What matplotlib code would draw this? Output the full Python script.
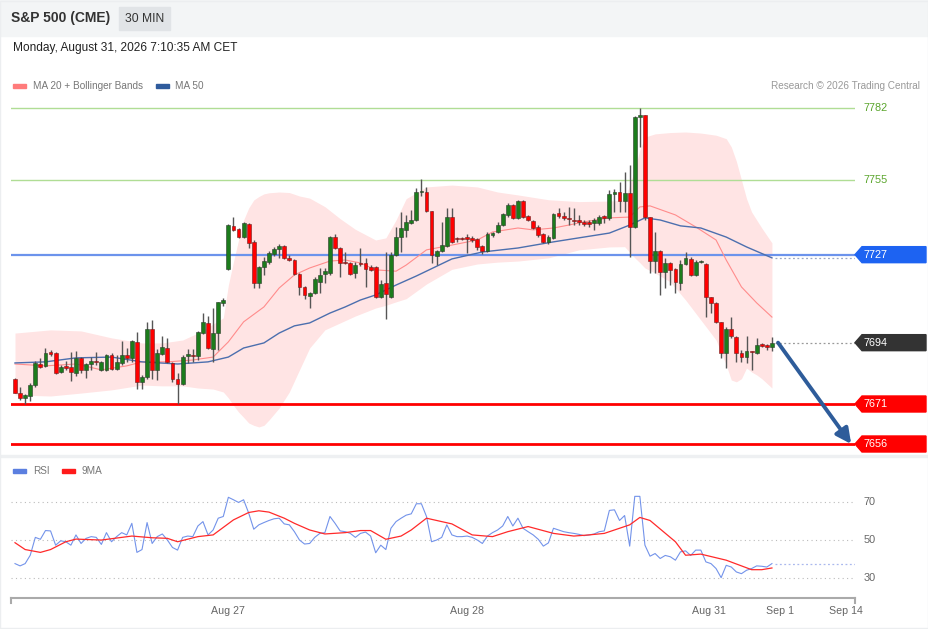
import matplotlib
matplotlib.use("Agg")
import matplotlib.pyplot as plt
import matplotlib.patches as patches
from matplotlib.transforms import blended_transform_factory
import numpy as np

plt.rcParams["font.family"] = ["Liberation Sans", "DejaVu Sans"]

# 30 minute candles, S&P 500 futures (bar number, open, high, low, close)
opens = [7680.4, 7675.1, 7673.3, 7674.0, 7678.1, 7686.0, 7685.3, 7690.5, 7690.1, 7683.0,
         7685.3, 7684.9, 7682.6, 7688.3, 7683.8, 7686.0, 7687.1, 7683.8, 7683.8, 7689.4,
         7684.1, 7686.4, 7689.4, 7688.3, 7694.3, 7679.3, 7681.1, 7699.1, 7683.8, 7689.8,
         7692.0, 7686.4, 7680.4, 7678.5, 7689.0, 7689.4, 7689.0, 7697.6, 7701.4, 7691.6,
         7697.6, 7708.9, 7721.6, 7737.8, 7736.6, 7733.6, 7738.5, 7731.8, 7716.4, 7722.4,
         7724.3, 7727.3, 7729.1, 7730.3, 7725.8, 7725.0, 7719.8, 7714.9, 7711.5, 7712.6,
         7716.8, 7719.8, 7720.1, 7733.6, 7729.5, 7724.3, 7723.9, 7720.1, 7723.9, 7723.9,
         7722.4, 7722.4, 7711.1, 7716.4, 7711.1, 7726.9, 7733.6, 7736.3, 7738.9, 7740.0,
         7750.5, 7750.5, 7743.4, 7726.5, 7728.4, 7730.3, 7741.1, 7733.3, 7733.3, 7733.6,
         7733.3, 7732.9, 7730.3, 7728.4, 7734.4, 7735.5, 7738.1, 7741.9, 7745.6, 7740.8,
         7747.1, 7741.5, 7739.6, 7737.4, 7734.8, 7731.8, 7733.3, 7742.6, 7741.5, 7740.8,
         7740.0, 7740.0, 7739.3, 7739.3, 7738.9, 7738.9, 7741.5, 7740.8, 7749.8, 7750.5,
         7747.1, 7750.1, 7737.4, 7778.6, 7779.4, 7741.1, 7724.6, 7728.4, 7720.5, 7723.9,
         7721.6, 7716.4, 7723.5, 7725.4, 7719.4, 7724.3, 7723.5, 7711.1, 7708.9, 7701.8,
         7690.1, 7699.1, 7696.1, 7690.1, 7688.6, 7690.9, 7690.1, 7693.5, 7693.1, 7692.4]
highs = [7680.8, 7677.4, 7674.8, 7678.9, 7687.1, 7688.3, 7692.0, 7691.3, 7690.5, 7685.6,
         7687.1, 7690.5, 7690.9, 7688.6, 7686.4, 7688.6, 7690.5, 7687.1, 7689.8, 7690.1,
         7689.4, 7694.6, 7692.0, 7695.0, 7698.0, 7681.9, 7701.8, 7702.5, 7691.6, 7696.5,
         7695.8, 7686.8, 7682.6, 7689.4, 7691.6, 7691.6, 7698.4, 7705.1, 7704.0, 7707.0,
         7709.3, 7710.8, 7738.5, 7741.1, 7737.0, 7739.3, 7738.9, 7732.5, 7722.8, 7726.1,
         7728.4, 7729.9, 7731.0, 7730.6, 7726.9, 7725.4, 7720.1, 7715.3, 7713.0, 7718.6,
         7722.0, 7722.0, 7734.0, 7734.8, 7729.9, 7728.0, 7724.3, 7724.3, 7729.5, 7725.8,
         7723.1, 7722.8, 7717.5, 7728.0, 7728.0, 7737.4, 7743.0, 7741.9, 7743.8, 7752.0,
         7755.4, 7752.4, 7743.4, 7728.8, 7739.3, 7744.5, 7744.5, 7733.6, 7733.6, 7734.8,
         7734.0, 7733.3, 7730.6, 7735.5, 7735.5, 7739.3, 7742.6, 7746.4, 7746.0, 7747.5,
         7747.5, 7741.9, 7740.0, 7738.1, 7735.1, 7734.4, 7742.6, 7744.5, 7743.0, 7744.9,
         7744.5, 7741.9, 7740.0, 7740.0, 7740.8, 7741.9, 7741.9, 7751.3, 7751.6, 7754.3,
         7758.0, 7760.6, 7779.0, 7782.0, 7779.4, 7741.1, 7735.5, 7728.8, 7725.8, 7724.3,
         7722.0, 7725.0, 7728.0, 7726.1, 7725.0, 7725.0, 7723.9, 7711.1, 7709.3, 7701.8,
         7699.9, 7703.6, 7696.5, 7691.3, 7696.5, 7690.9, 7695.8, 7693.9, 7693.5, 7696.1]
lows = [7675.1, 7672.5, 7671.0, 7672.1, 7677.4, 7684.5, 7684.9, 7689.0, 7682.3, 7682.6,
        7683.8, 7679.6, 7681.5, 7682.6, 7680.8, 7683.8, 7685.6, 7683.4, 7683.4, 7683.8,
        7683.8, 7685.6, 7686.8, 7686.8, 7676.6, 7676.6, 7680.4, 7680.4, 7680.0, 7689.4,
        7686.4, 7679.3, 7671.0, 7678.1, 7686.4, 7686.8, 7687.5, 7697.3, 7691.6, 7686.8,
        7691.3, 7707.8, 7721.3, 7735.9, 7733.3, 7733.3, 7729.5, 7714.5, 7714.5, 7719.4,
        7723.5, 7726.5, 7725.8, 7725.4, 7724.6, 7719.4, 7711.9, 7710.4, 7707.0, 7712.3,
        7712.6, 7716.4, 7719.4, 7729.1, 7718.6, 7723.5, 7719.4, 7718.3, 7722.8, 7714.9,
        7720.9, 7710.8, 7710.8, 7702.9, 7710.8, 7726.5, 7728.0, 7733.6, 7738.5, 7739.6,
        7749.0, 7743.0, 7723.9, 7723.1, 7728.0, 7729.9, 7731.4, 7731.8, 7732.5, 7727.6,
        7731.8, 7728.8, 7727.3, 7728.0, 7733.6, 7735.1, 7737.8, 7741.1, 7740.4, 7740.4,
        7740.8, 7739.6, 7736.6, 7733.6, 7731.4, 7731.0, 7732.9, 7740.8, 7740.0, 7738.1,
        7738.1, 7738.1, 7737.8, 7737.4, 7736.3, 7738.1, 7739.0, 7740.0, 7743.0, 7743.0,
        7743.0, 7726.1, 7737.0, 7767.4, 7740.0, 7720.1, 7720.1, 7711.9, 7714.5, 7715.6,
        7712.6, 7713.8, 7723.1, 7719.0, 7719.0, 7723.9, 7703.6, 7705.1, 7701.4, 7688.3,
        7684.5, 7695.8, 7686.8, 7686.8, 7686.4, 7683.8, 7689.8, 7692.4, 7691.3, 7690.9]
closes = [7675.1, 7673.3, 7674.4, 7678.1, 7686.4, 7684.9, 7690.1, 7689.8, 7682.6, 7684.9,
          7684.5, 7683.0, 7688.3, 7683.8, 7686.0, 7687.1, 7686.8, 7686.8, 7689.4, 7684.1,
          7686.8, 7689.4, 7688.3, 7694.6, 7679.3, 7681.1, 7699.1, 7683.8, 7690.1, 7692.4,
          7686.8, 7680.4, 7678.5, 7688.6, 7689.8, 7689.0, 7698.0, 7701.8, 7692.0, 7697.6,
          7709.3, 7710.0, 7738.1, 7736.3, 7733.6, 7738.9, 7731.4, 7716.4, 7722.4, 7724.6,
          7727.6, 7729.1, 7730.3, 7725.8, 7725.0, 7719.8, 7714.9, 7711.9, 7712.6, 7717.9,
          7719.4, 7720.9, 7733.6, 7729.5, 7723.9, 7723.9, 7719.8, 7723.1, 7723.5, 7721.6,
          7721.3, 7711.1, 7716.0, 7712.3, 7726.9, 7733.6, 7737.0, 7739.3, 7740.0, 7750.5,
          7750.9, 7743.4, 7726.9, 7728.4, 7730.6, 7741.1, 7731.8, 7732.9, 7732.9, 7732.9,
          7732.5, 7729.9, 7728.4, 7734.8, 7735.1, 7738.1, 7742.3, 7745.6, 7740.8, 7747.1,
          7741.1, 7740.0, 7737.0, 7734.4, 7731.8, 7733.6, 7742.3, 7741.5, 7740.8, 7740.4,
          7739.6, 7739.3, 7738.5, 7738.5, 7740.0, 7741.1, 7740.8, 7749.8, 7750.5, 7747.1,
          7750.1, 7737.4, 7778.6, 7779.4, 7741.1, 7724.6, 7728.4, 7720.5, 7723.9, 7721.3,
          7716.8, 7723.5, 7725.8, 7719.4, 7724.3, 7724.6, 7711.1, 7708.9, 7701.8, 7690.1,
          7699.1, 7696.5, 7690.1, 7688.6, 7690.9, 7690.5, 7693.1, 7692.8, 7692.4, 7694.0]

# moving averages read at sample bars
ma20_bar = [1, 7, 13, 18, 23, 26, 31, 36, 40, 43, 46, 50, 53, 56, 59, 63, 66, 69, 72, 76,
            78, 82, 87, 92, 95, 100, 103, 107, 110, 113, 118, 122, 124, 126, 131, 135, 139,
            141, 144, 147, 150]
ma20_val = [7686.0, 7685.3, 7686.0, 7683.8, 7685.3, 7686.8, 7686.8, 7687.5, 7688.6, 7694.3,
            7701.8, 7707.4, 7714.5, 7719.4, 7722.0, 7724.6, 7725.0, 7723.9, 7721.3, 7720.8,
            7723.1, 7728.8, 7730.6, 7732.5, 7735.5, 7737.0, 7736.3, 7737.0, 7738.1, 7739.3,
            7740.8, 7741.1, 7744.9, 7745.3, 7741.9, 7737.4, 7732.5, 7725.0, 7714.9, 7708.9,
            7703.6]
ma50_bar = [1, 7, 13, 20, 26, 33, 39, 43, 46, 50, 53, 56, 59, 63, 66, 69, 72, 76, 80, 87,
            93, 100, 107, 113, 118, 122, 125, 128, 132, 136, 141, 145, 150]
ma50_val = [7686.4, 7686.8, 7688.3, 7688.6, 7686.8, 7686.0, 7686.8, 7688.6, 7692.0, 7693.9,
            7697.6, 7700.3, 7701.4, 7705.1, 7707.4, 7710.0, 7711.9, 7715.6, 7719.0, 7725.4,
            7728.0, 7729.5, 7731.8, 7733.6, 7735.1, 7738.1, 7740.8, 7740.0, 7737.8, 7737.0,
            7733.6, 7729.9, 7725.8]

# Bollinger bands
bb_bar = [1, 8, 14, 20, 26, 30, 34, 37, 40, 42, 43, 44, 45, 46, 47, 48, 49, 50, 51, 53,
          55, 57, 59, 62, 65, 68, 72, 74, 76, 78, 82, 87, 92, 96, 100, 106, 112, 118, 121,
          123, 124, 125, 127, 130, 133, 136, 139, 141, 142, 143, 144, 145, 146, 147, 148, 150]
bb_upper = [7697.6, 7698.8, 7698.4, 7695.8, 7693.9, 7693.9, 7695.0, 7697.6, 7701.0, 7703.3,
            7715.6, 7724.3, 7732.5, 7740.0, 7744.5, 7747.5, 7748.8, 7749.8, 7750.2, 7750.5,
            7750.3, 7749.0, 7748.2, 7745.0, 7740.5, 7736.5, 7732.5, 7733.3, 7740.0, 7748.0,
            7752.4, 7753.1, 7752.4, 7750.5, 7749.4, 7747.6, 7746.9, 7747.1, 7747.5, 7758.8,
            7766.3, 7771.1, 7772.3, 7772.8, 7773.0, 7772.6, 7771.8, 7770.5, 7767.4, 7762.0,
            7755.0, 7748.0, 7743.0, 7740.0, 7737.0, 7731.4]
bb_lower = [7674.4, 7674.0, 7675.1, 7676.3, 7678.1, 7677.8, 7677.8, 7677.0, 7676.6, 7675.5,
            7673.3, 7670.5, 7668.0, 7666.0, 7663.9, 7663.0, 7662.4, 7663.0, 7665.0, 7669.5,
            7675.5, 7683.8, 7692.0, 7698.8, 7701.4, 7704.0, 7707.0, 7708.0, 7709.3, 7710.5,
            7716.0, 7721.5, 7723.5, 7724.2, 7724.6, 7725.8, 7728.8, 7729.9, 7730.0, 7725.8,
            7724.0, 7722.0, 7720.1, 7716.8, 7710.0, 7702.5, 7695.0, 7685.6, 7680.0, 7679.3,
            7680.5, 7684.5, 7683.0, 7681.9, 7680.5, 7677.0]

# RSI per bar and its 9 period average at sample bars
rsi = [37.6, 36.4, 37.6, 42.0, 51.4, 50.4, 55.0, 54.8, 47.3, 49.6,
       49.1, 47.3, 52.7, 48.2, 50.9, 51.8, 51.4, 47.7, 53.9, 49.1,
       51.8, 53.9, 52.7, 58.8, 43.5, 45.0, 59.2, 48.2, 51.8, 53.2,
       50.0, 46.1, 44.7, 51.4, 52.1, 51.8, 57.4, 59.7, 52.7, 55.3,
       61.5, 62.4, 72.5, 71.2, 69.8, 71.2, 64.2, 55.7, 58.0, 59.2,
       60.3, 61.2, 61.5, 58.5, 58.0, 54.4, 50.0, 47.9, 48.2, 51.4,
       53.5, 53.9, 62.4, 58.8, 54.8, 54.4, 53.5, 51.4, 53.5, 54.2,
       52.1, 43.3, 47.3, 45.0, 56.2, 59.7, 61.5, 63.1, 63.8, 69.1,
       69.1, 62.4, 49.1, 50.0, 51.4, 58.0, 52.7, 51.8, 51.8, 52.1,
       51.4, 50.0, 48.2, 52.1, 53.9, 55.3, 57.4, 62.4, 57.4, 61.5,
       56.2, 54.4, 52.7, 50.4, 46.8, 48.5, 56.2, 55.3, 54.4, 53.9,
       53.5, 53.0, 52.3, 52.7, 53.2, 54.4, 54.8, 65.6, 65.9, 60.3,
       62.9, 46.8, 73.0, 73.0, 47.3, 41.5, 42.9, 40.3, 41.9, 41.2,
       39.4, 43.8, 44.3, 41.9, 44.7, 44.7, 38.5, 37.6, 35.0, 30.2,
       36.7, 35.8, 33.2, 32.3, 34.1, 35.0, 36.4, 36.2, 35.8, 37.6]
ma9_bar = [1, 3, 6, 8, 11, 13, 18, 24, 28, 31, 33, 37, 40, 44, 47, 49, 51, 54, 56, 59,
           62, 66, 69, 71, 74, 77, 79, 82, 85, 87, 91, 95, 98, 102, 107, 111, 114, 117,
           122, 124, 126, 131, 133, 136, 141, 146, 148, 150]
ma9_val = [48.6, 45.0, 43.5, 45.0, 49.1, 50.5, 50.0, 52.1, 51.2, 50.9, 49.1, 51.8, 52.7,
           60.6, 64.5, 65.4, 64.7, 61.5, 58.8, 55.3, 53.2, 53.9, 55.0, 55.0, 50.4, 52.1,
           55.3, 61.5, 59.7, 58.5, 52.7, 51.8, 54.4, 57.1, 53.5, 52.1, 52.7, 53.5, 58.0,
           61.9, 60.3, 49.1, 42.0, 42.6, 39.4, 34.4, 34.4, 35.3]

# key levels
resistances = [7782, 7755]
pivot = 7727
supports = [7671, 7656]
last_price = 7694

date_ticks = [43, 90, 137.5, 151.5, 164.5]
date_labels = ["Aug 27", "Aug 28", "Aug 31", "Sep 1", "Sep 14"]

W, H = 929, 629
fig = plt.figure(figsize=(W / 100, H / 100), dpi=100)


def fx(px):
    return px / W


def fy(py):
    return 1 - py / H


# header band and frame
fig.patches.append(patches.Rectangle((0, fy(36)), 1, 36 / H, transform=fig.transFigure,
                                     color="#f3f5f6", zorder=0))
fig.patches.append(patches.Rectangle((fx(119), fy(30)), 51 / W, 23 / H, transform=fig.transFigure,
                                     color="#e1e4e7", zorder=1))
fig.patches.append(patches.Rectangle((0, fy(457)), 1, 2 / H, transform=fig.transFigure,
                                     color="#eef0f2", zorder=0))
fig.patches.append(patches.Rectangle((0.0005, 0.001), 0.998, 0.998, transform=fig.transFigure,
                                     fill=False, edgecolor="#eceef0", lw=1.0, zorder=0))

fig.text(fx(11), fy(18), "S&P 500 (CME)", fontsize=10, fontweight="bold", color="#333333", va="center")
fig.text(fx(144.5), fy(18.5), "30 MIN", fontsize=8.7, color="#333333", va="center", ha="center")
fig.text(fx(13), fy(48), "Monday, August 31, 2026 7:10:35 AM CET", fontsize=8.6, color="#222222", va="center")

# legends
fig.patches.append(patches.Rectangle((fx(13), fy(88)), 13 / W, 4 / H, transform=fig.transFigure, color="#ff7b7b"))
fig.text(fx(33), fy(86), "MA 20 + Bollinger Bands", fontsize=7.2, color="#777777", va="center")
fig.patches.append(patches.Rectangle((fx(156), fy(88)), 13 / W, 4 / H, transform=fig.transFigure, color="#2f5b9c"))
fig.text(fx(175), fy(86), "MA 50", fontsize=7.2, color="#777777", va="center")
fig.text(fx(920), fy(86), "Research \u00a9 2026 Trading Central", fontsize=7.2, color="#999999",
         va="center", ha="right")
fig.patches.append(patches.Rectangle((fx(13), fy(473)), 13 / W, 4 / H, transform=fig.transFigure, color="#5b7fe0"))
fig.text(fx(33), fy(471), "RSI", fontsize=7.2, color="#777777", va="center")
fig.patches.append(patches.Rectangle((fx(62), fy(473)), 13 / W, 4 / H, transform=fig.transFigure, color="#ff1a1a"))
fig.text(fx(82), fy(471), "9MA", fontsize=7.2, color="#777777", va="center")

xmin, xmax = 0.213, 166.35
n = len(closes)
bars = np.arange(1, n + 1)

# ---- price panel
ax = fig.add_axes([fx(11), fy(452), 844 / W, 352 / H])
ax.set_xlim(xmin, xmax)
ax.set_ylim(7653, 7785)
ax.axis("off")

ax.fill_between(bb_bar, bb_lower, bb_upper, color="#ffe4e4", lw=0, zorder=1)
ax.plot(ma20_bar, ma20_val, color="#ff8c8c", lw=0.8, zorder=2)
ax.plot(ma50_bar, ma50_val, color="#4c6fae", lw=1.0, zorder=2)

for lv in resistances:
    ax.axhline(lv, color="#b0dd95", lw=1, zorder=1.5)
ax.axhline(pivot, color="#6c93ec", lw=1.6, zorder=1.5)
for lv in supports:
    ax.axhline(lv, color="#ff0000", lw=2, zorder=1.5)

o = np.array(opens)
c = np.array(closes)
up = c >= o
ax.vlines(bars, lows, highs, color="#555555", lw=1, zorder=3)
body_low = np.minimum(o, c)
body_h = np.maximum(np.abs(c - o), 0.5)
ax.bar(bars[up], body_h[up], bottom=body_low[up], width=0.75, color="#1c7c1c",
       edgecolor="#2a3a2a", lw=0.4, zorder=4)
ax.bar(bars[~up], body_h[~up], bottom=body_low[~up], width=0.75, color="#ff0000",
       edgecolor="#6a2020", lw=0.4, zorder=4)

# extensions past the last bar
x_ext = [n + 0.6, xmax]
ax.plot(x_ext, [last_price, last_price], color="#999999", lw=0.9, ls=(0, (1.5, 2)), zorder=2)
ax.plot(x_ext, [ma50_val[-1], ma50_val[-1]], color="#9aa7c4", lw=0.9, ls=(0, (1.5, 2)), zorder=2)

# projection arrow
ax.annotate("", xy=(165.6, supports[1]), xytext=(n + 1.2, last_price),
            arrowprops=dict(arrowstyle="-|>,head_width=0.45,head_length=0.9", color="#2e5c9a", lw=2.8,
                            shrinkA=0, shrinkB=0),
            annotation_clip=False, zorder=6)

trans = blended_transform_factory(fig.transFigure, ax.transData)


def tag(price, color):
    pts = [(fx(855), price), (fx(862), price + 3.0), (fx(926), price + 3.0),
           (fx(926), price - 3.0), (fx(862), price - 3.0)]
    poly = patches.Polygon(pts, closed=True, transform=trans, color=color, clip_on=False, zorder=5)
    ax.add_patch(poly)
    ax.text(fx(864), price, str(price), transform=trans, fontsize=7.8, color="white",
            va="center", ha="left", clip_on=False, zorder=6)


for lv in resistances:
    ax.text(fx(864), lv, str(lv), transform=trans, fontsize=7.8, color="#5aa52c",
            va="center", ha="left", clip_on=False)
tag(pivot, "#1d63f2")
tag(last_price, "#333333")
for lv in supports:
    tag(lv, "#ff0000")

# ---- RSI panel
ax2 = fig.add_axes([fx(11), fy(598), 844 / W, 118 / H])
ax2.set_xlim(xmin, xmax)
ax2.set_ylim(19.5, 81.6)
for lv in [30, 50, 70]:
    ax2.axhline(lv, color="#bbbbbb", lw=0.8, ls=(0, (1, 3)))
    ax2.text(fx(864), lv, str(lv), transform=blended_transform_factory(fig.transFigure, ax2.transData),
             fontsize=7.8, color="#666666", va="center", ha="left")
ax2.plot(bars, rsi, color="#7393ea", lw=0.8)
ax2.plot(ma9_bar, ma9_val, color="#ff2a2a", lw=0.9)
ax2.plot(x_ext, [rsi[-1], rsi[-1]], color="#aab8ee", lw=0.9, ls=(0, (1.5, 2)))

for side in ["top", "right", "left"]:
    ax2.spines[side].set_visible(False)
ax2.spines["bottom"].set_color("#aaaaaa")
ax2.spines["bottom"].set_linewidth(1.5)
ax2.set_yticks([])
ax2.set_xticks(date_ticks)
ax2.set_xticklabels(date_labels)
ax2.tick_params(axis="x", length=0, pad=6, labelsize=7.7, labelcolor="#666666")
for xe in [0, 1]:
    ax2.plot([xe, xe], [0, -0.045], transform=ax2.transAxes, color="#aaaaaa", lw=1.5, clip_on=False)

fig.savefig("out.png", dpi=100)
